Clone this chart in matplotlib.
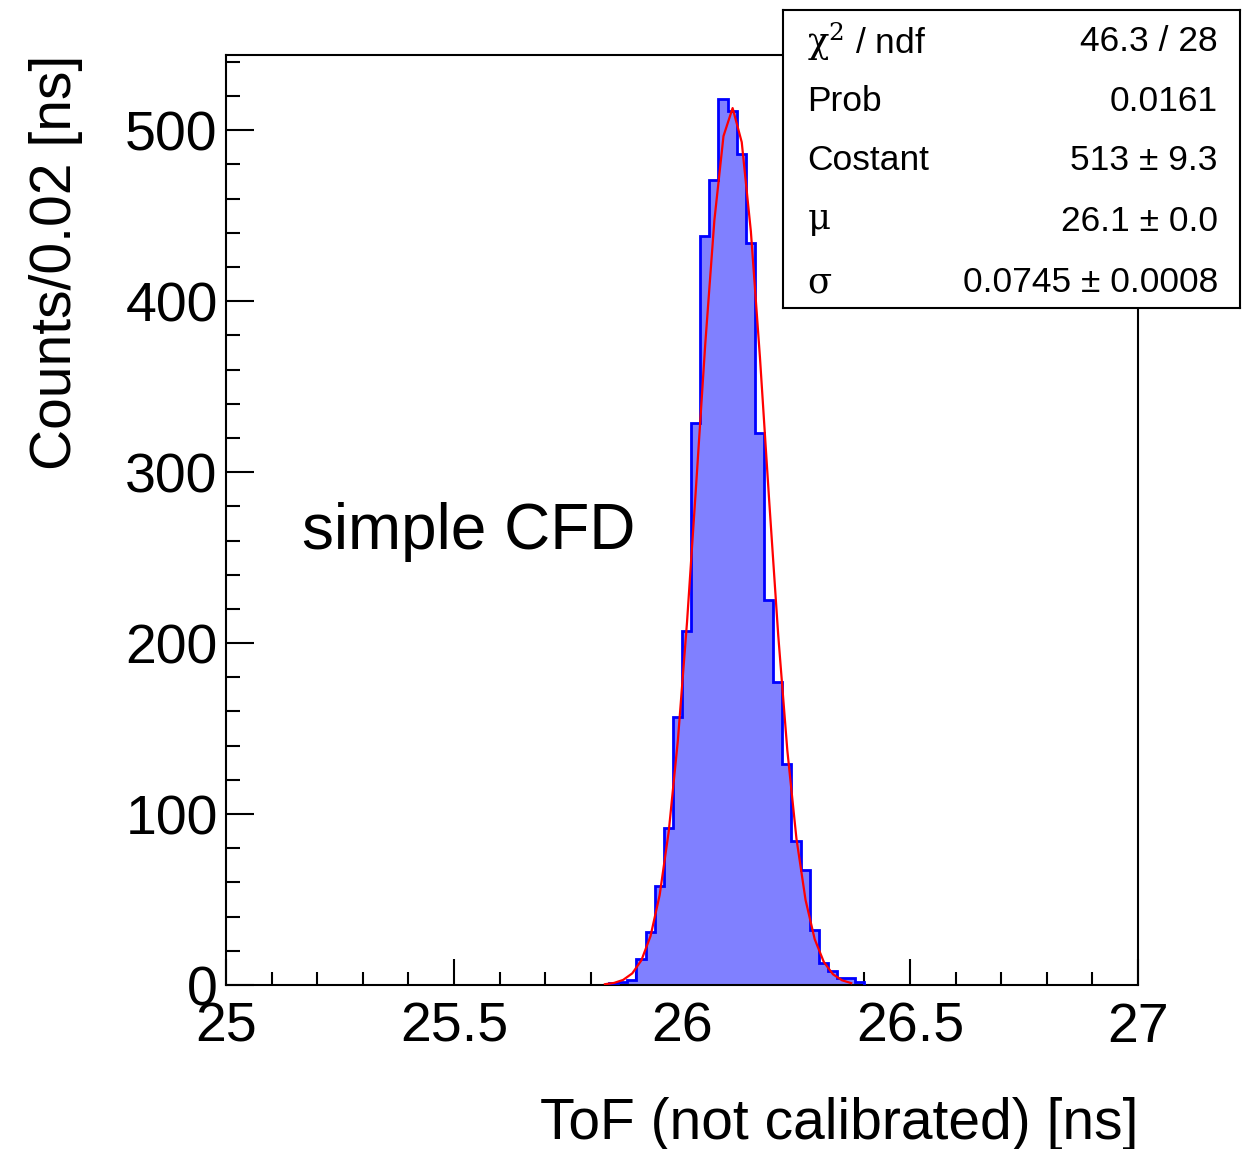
#!/usr/bin/env python3
"""ToF histogram (simple CFD) with Gaussian fit and ROOT-style stats box."""

import numpy as np
import matplotlib
matplotlib.use("Agg")
import matplotlib.pyplot as plt
from matplotlib.ticker import MultipleLocator

plt.rcParams["font.family"] = ["Liberation Sans", "DejaVu Sans"]
plt.rcParams["mathtext.fontset"] = "custom"
plt.rcParams["mathtext.rm"] = "DejaVu Serif"
plt.rcParams["mathtext.it"] = "DejaVu Serif"

# histogram: 0.02 ns bins, left edges from 25.84 ns
bin_width = 0.02
first_edge = 25.84
counts = [1, 2, 3, 15, 31, 58, 92, 157, 207, 329, 438, 471, 518, 511, 486,
          434, 323, 225, 177, 129, 84, 67, 32, 13, 8, 4, 4, 2]

# fit result (gaussian)
fit_const = 513.0
fit_mu = 26.11
fit_sigma = 0.0745
fit_range = (25.831, 26.38)

stat_labels = [r"$\mathrm{\chi}^{2}$ / ndf", "Prob", "Costant",
               r"$\mathrm{\mu}$", r"$\mathrm{\sigma}$"]
stat_values = ["46.3 / 28", "0.0161", "513 ± 9.3", "26.1 ± 0.0",
               "0.0745 ± 0.0008"]

W, H = 1256, 1149
fig = plt.figure(figsize=(W / 100, H / 100), dpi=100)
ax = fig.add_axes([226 / W, 1 - 985 / H, (1138 - 226) / W, (985 - 55) / H])

edges = first_edge + bin_width * np.arange(len(counts) + 1)
ax.stairs(counts, edges, fill=True, facecolor="#8080ff", edgecolor="none",
          zorder=2)
ax.stairs(counts, edges, color="#0000ff", lw=2.0, baseline=0, zorder=3)

# fit curve, sampled coarsely like ROOT's TF1 polyline
xf = np.arange(fit_range[0], fit_range[1], bin_width)
yf = fit_const * np.exp(-0.5 * ((xf - fit_mu) / fit_sigma) ** 2)
ax.plot(xf, yf, color="#ff0000", lw=1.6, zorder=4)

ax.set_xlim(25, 27)
ax.set_ylim(0, 544)
ax.xaxis.set_major_locator(MultipleLocator(0.5))
ax.xaxis.set_minor_locator(MultipleLocator(0.1))
ax.yaxis.set_major_locator(MultipleLocator(100))
ax.yaxis.set_minor_locator(MultipleLocator(20))
ax.xaxis.set_major_formatter(plt.FuncFormatter(lambda v, p: f"{v:g}"))

ax.tick_params(which="both", direction="in", width=1.5, top=False,
               right=False, labelsize=40)
ax.tick_params(axis="x", which="major", length=19, pad=12)
ax.tick_params(axis="x", which="minor", length=9.5)
ax.tick_params(axis="y", which="major", length=20, pad=6)
ax.tick_params(axis="y", which="minor", length=10)
for sp in ax.spines.values():
    sp.set_linewidth(1.5)

ax.set_xlabel("ToF (not calibrated) [ns]", fontsize=41, loc="right",
              labelpad=31)
ax.set_ylabel("Counts/0.02 [ns]", fontsize=41, loc="top", labelpad=30)

ax.text(25.167, 265, "simple CFD", fontsize=46, ha="left", va="center")

# stats box
box = fig.add_axes([783 / W, 1 - 308 / H, (1240 - 783) / W, (308 - 10) / H])
box.set_xticks([])
box.set_yticks([])
box.set_xlim(783, 1240)
box.set_ylim(308, 10)
for sp in box.spines.values():
    sp.set_linewidth(1.5)
row_y = [42, 102, 161, 222, 283]
for lab, val, yy in zip(stat_labels, stat_values, row_y):
    box.text(807, yy, lab, fontsize=25.5, ha="left", va="center")
    box.text(1218, yy, val, fontsize=25.5, ha="right", va="center")

fig.savefig("out.png", dpi=100)
